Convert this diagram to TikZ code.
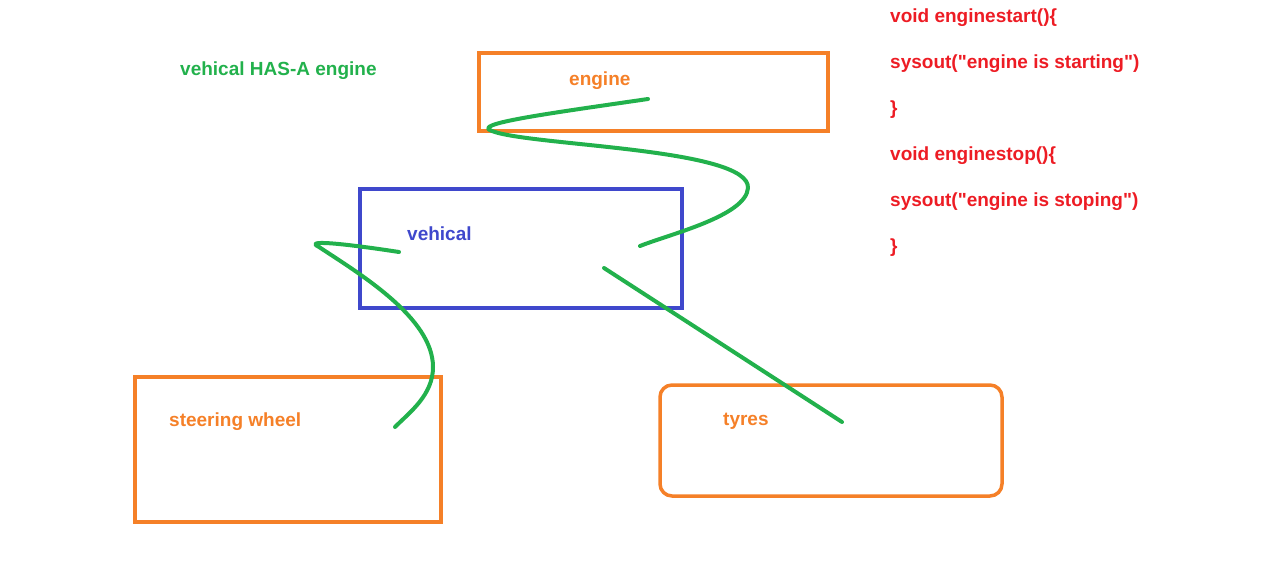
\documentclass[tikz,border=0pt]{standalone}
\usepackage{fontspec}
\setmainfont{Liberation Sans}
\definecolor{porange}{RGB}{245,128,40}
\definecolor{pblue}{RGB}{63,72,204}
\definecolor{pgreen}{RGB}{34,177,76}
\definecolor{pred}{RGB}{237,28,36}
\tikzset{
  box/.style={draw=#1, line width=3.5pt, minimum width=0pt, inner sep=0pt},
  lbl/.style={anchor=west, inner sep=0pt, font=\fontsize{19}{22}\selectfont\bfseries, text=#1},
  scribble/.style={draw=pgreen, line width=4pt, line cap=round, line join=round}
}
\begin{document}
\begin{tikzpicture}[x=1pt,y=-1pt]
\useasboundingbox (0,0) rectangle (1280,588);
% boxes
\node[box=porange, minimum width=349pt, minimum height=78pt] (engine) at (653.5,92) {};
\node[box=pblue, minimum width=322pt, minimum height=119pt] (vehical) at (521,248.5) {};
\node[box=porange, minimum width=306pt, minimum height=145pt] (steer) at (288,449.5) {};
\node[box=porange, rounded corners=12pt, minimum width=342pt, minimum height=111pt] (tyres) at (831,440.5) {};
% labels
\node[lbl=pgreen] (has) at (180,70.5) {vehical HAS-A engine};
\node[lbl=porange] (tengine) at (569,80.5) {engine};
\node[lbl=pblue] (tveh) at (407,233.5) {vehical};
\node[lbl=porange] (tsteer) at (169,421.5) {steering wheel};
\node[lbl=porange] (ttyres) at (723,421.5) {tyres};
% code
\node[lbl=pred] (c1) at (890,17.5) {void enginestart()\{};
\node[lbl=pred] (c2) at (890,63.5) {sysout(\textquotedbl engine is starting\textquotedbl)};
\node[lbl=pred] (c3) at (890,109.5) {\}};
\node[lbl=pred] (c4) at (890,155.5) {void enginestop()\{};
\node[lbl=pred] (c5) at (890,201.5) {sysout(\textquotedbl engine is stoping\textquotedbl)};
\node[lbl=pred] (c6) at (890,247.5) {\}};
% scribble coordinates
\coordinate (a0) at (648,99);
\coordinate (a1) at (492,131);
\coordinate (a2) at (748,188);
\coordinate (a3) at (640,246);
\coordinate (b0) at (399,252);
\coordinate (b1) at (319,247);
\coordinate (b2) at (433,367);
\coordinate (b3) at (395,427);
\coordinate (t0) at (604,268);
\coordinate (t1) at (842,422);
% scribbles
\draw[scribble] (a0) .. controls (545,114) and (470,124) .. (a1)
  .. controls (530,146) and (750,148) .. (a2)
  .. controls (746,216) and (670,234) .. (a3);
\draw[scribble] (b0) .. controls (360,246) and (300,238) .. (b1)
  .. controls (360,274) and (433,318) .. (b2)
  .. controls (433,395) and (410,412) .. (b3);
\draw[scribble] (t0) -- (t1);
\end{tikzpicture}
\end{document}
